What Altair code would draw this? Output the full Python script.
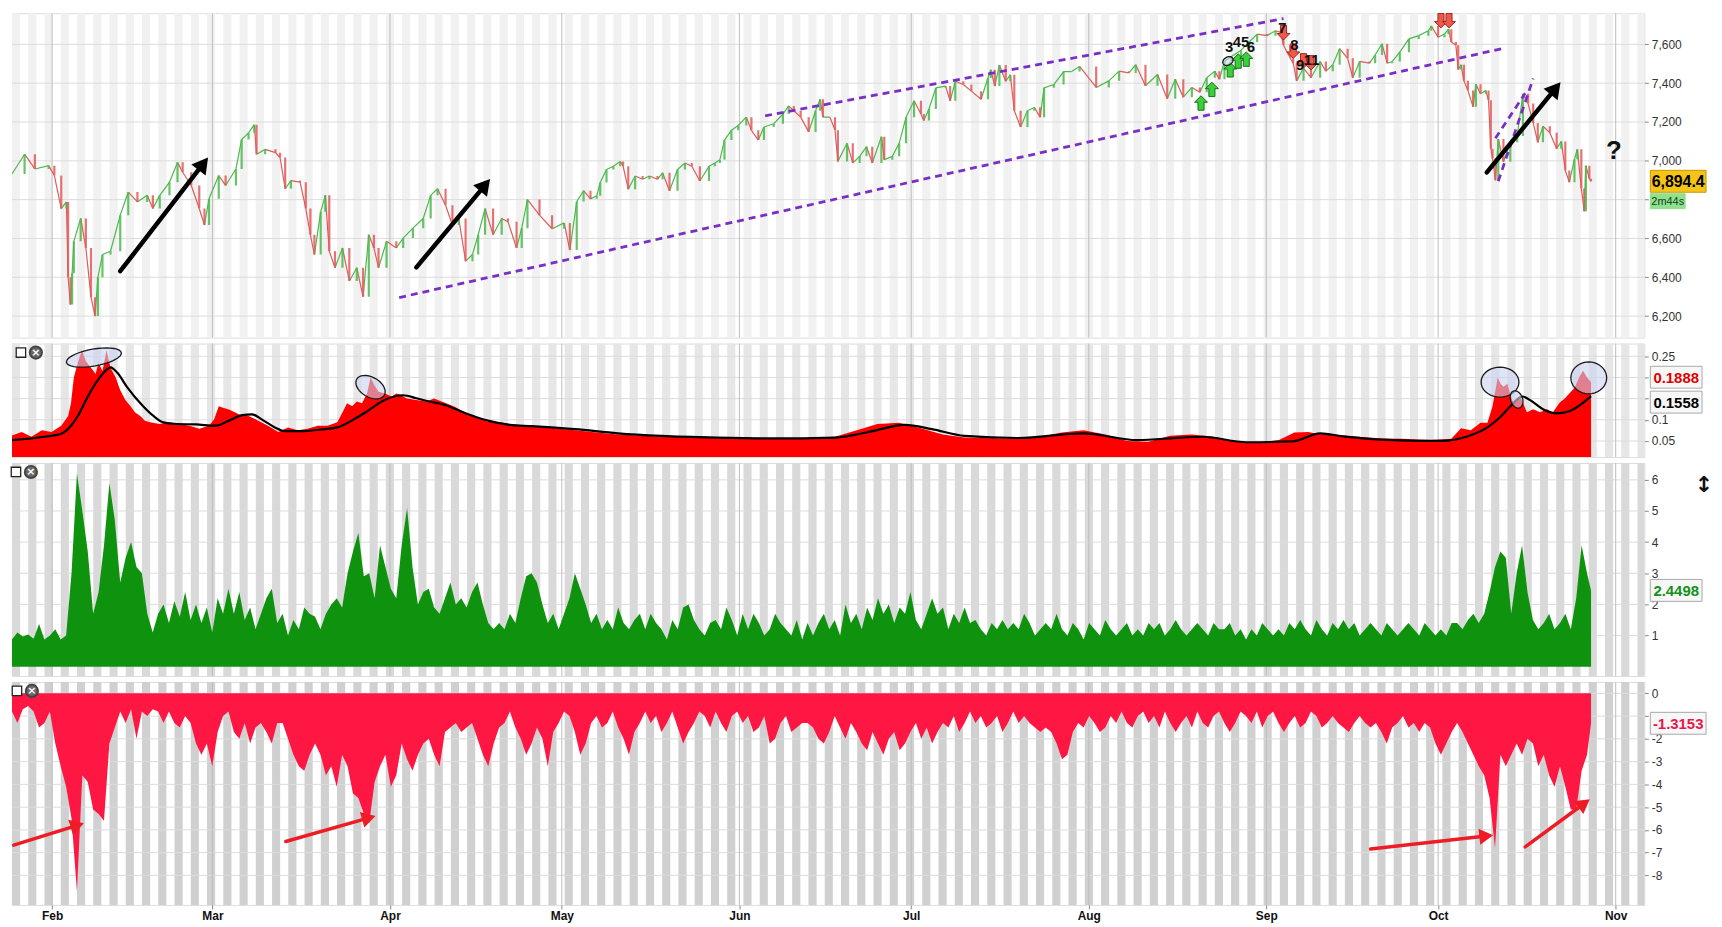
import math
import altair as alt
import numpy as np
import pandas as pd

# ------------------------------------------------------------------ data
MONTHS = ["Feb", "Mar", "Apr", "May", "Jun", "Jul", "Aug", "Sep", "Oct", "Nov"]
PRICE_TICKS = [6200, 6400, 6600, 6800, 7000, 7200, 7400, 7600]
VOL_TICKS = [0.05, 0.1, 0.15, 0.2, 0.25]
POS_TICKS = [1, 2, 3, 4, 5, 6]
NEG_TICKS = [0, -1, -2, -3, -4, -5, -6, -7, -8]
# tick labels covered by the last-value boxes in the reference
VOL_HIDDEN = [0.15, 0.2]
NEG_HIDDEN = [-1]

# (day since 25 Jan, price)
PRICE = [(0.0, 6932), (2.2, 7034), (4.0, 6958), (6.4, 6975), (7.4, 6924), (8.6, 6754), (9.5, 6788),
         (9.8, 6400), (10.2, 6260), (10.5, 6420), (10.8, 6585), (12.0, 6703), (12.9, 6551), (13.8, 6297),
         (14.5, 6200), (15.0, 6400), (15.8, 6517), (17.2, 6534), (18.9, 6720), (20.3, 6839), (21.9, 6788),
         (23.6, 6822), (24.6, 6754), (25.8, 6822), (27.5, 6890), (28.9, 6992), (29.8, 6941), (31.3, 6873),
         (32.7, 6754), (33.6, 6669), (34.4, 6805), (36.1, 6924), (37.3, 6873), (39.1, 6958), (40.1, 7110),
         (41.3, 7144), (42.3, 7186), (42.7, 7034), (44.2, 7059), (46.0, 7042), (46.8, 7017), (47.7, 6856),
         (48.7, 6898), (50.3, 6890), (51.3, 6754), (52.1, 6619), (52.8, 6517), (53.9, 6737), (54.7, 6822),
         (55.4, 6534), (56.4, 6449), (57.7, 6551), (58.9, 6381), (60.2, 6449), (61.3, 6300), (62.3, 6619),
         (63.2, 6551), (64.0, 6449), (65.4, 6585), (67.1, 6551), (68.3, 6602), (70.0, 6653), (71.8, 6703),
         (73.1, 6822), (74.3, 6856), (75.7, 6771), (76.9, 6669), (78.0, 6703), (79.2, 6483), (80.4, 6517),
         (81.4, 6619), (82.6, 6754), (84.0, 6619), (85.5, 6703), (86.6, 6686), (88.1, 6551), (89.0, 6653),
         (90.0, 6800), (92.1, 6720), (94.3, 6650), (96.4, 6680), (97.4, 6540), (98.6, 6790), (99.8, 6846),
         (101.0, 6804), (102.1, 6820), (102.7, 6888), (103.8, 6955), (105.0, 6972), (106.2, 6997),
         (106.7, 6972), (107.6, 6854), (108.8, 6922), (110.1, 6905), (111.3, 6922), (112.7, 6905),
         (113.6, 6938), (114.8, 6846), (116.2, 6955), (117.5, 6989), (118.7, 6972), (120.1, 6896),
         (121.7, 6972), (122.7, 6989), (123.6, 7006), (124.4, 7107), (125.6, 7157), (126.8, 7182),
         (128.2, 7225), (129.1, 7157), (130.3, 7107), (131.3, 7174), (133.0, 7191), (134.6, 7241),
         (135.6, 7283), (136.5, 7258), (137.7, 7225), (139.1, 7149), (140.3, 7258), (141.1, 7317),
         (141.6, 7225), (142.8, 7225), (143.7, 7157), (144.2, 6997), (145.8, 7090), (146.8, 6989),
         (148.0, 7023), (149.2, 7073), (150.2, 6989), (151.8, 7124), (152.3, 7006), (153.7, 7023),
         (154.9, 7090), (156.1, 7225), (157.5, 7309), (158.7, 7241), (159.2, 7208), (160.1, 7267),
         (161.3, 7376), (163.0, 7385), (163.8, 7309), (164.7, 7410), (166.1, 7393), (167.5, 7359),
         (169.2, 7317), (170.4, 7427), (170.9, 7469), (171.6, 7385), (172.4, 7494), (173.5, 7410),
         (174.3, 7443), (175.0, 7258), (176.1, 7174), (177.3, 7258), (178.5, 7275), (179.5, 7225),
         (180.2, 7376), (181.9, 7393), (183.6, 7460), (185.0, 7460), (186.4, 7486), (189.3, 7378),
         (191.5, 7412), (193.3, 7462), (195.0, 7453), (196.2, 7495), (197.9, 7387), (200.0, 7445),
         (201.7, 7320), (203.1, 7420), (204.5, 7328), (206.0, 7378), (207.4, 7353), (208.6, 7428),
         (210.0, 7462), (210.8, 7420), (211.7, 7512), (212.9, 7537), (214.6, 7570), (216.0, 7612),
         (217.4, 7653), (219.1, 7645), (220.6, 7670), (221.5, 7662), (222.0, 7595), (223.2, 7528),
         (223.7, 7503), (224.3, 7412), (225.5, 7478), (226.8, 7428), (228.4, 7512), (229.4, 7462),
         (230.6, 7495), (231.8, 7578), (233.2, 7528), (234.1, 7428), (235.3, 7512), (237.0, 7503),
         (238.0, 7545), (239.2, 7603), (240.1, 7503), (241.0, 7512), (242.3, 7560), (243.9, 7628),
         (245.6, 7645), (247.3, 7670), (247.8, 7695), (249.0, 7637), (250.1, 7653), (250.8, 7678),
         (251.3, 7612), (252.1, 7595), (252.5, 7470), (253.0, 7495), (253.5, 7412), (254.2, 7362),
         (255.1, 7278), (255.6, 7395), (256.4, 7345), (257.3, 7362), (257.8, 7312), (258.2, 7062),
         (258.5, 7012), (259.0, 6900), (259.5, 7112), (260.4, 6995), (261.6, 7095), (262.8, 7128),
         (263.8, 7345), (264.7, 7295), (265.6, 7195), (266.4, 7095), (267.3, 7178), (268.5, 7145),
         (269.7, 7062), (270.5, 7100), (271.2, 6950), (271.9, 6890), (272.8, 7008), (273.3, 7059),
         (274.0, 6857), (274.5, 6740), (274.8, 6975), (275.4, 6908), (275.7, 6894.4)]

VOL_RED = [(0.0, 0.063), (1.7, 0.071), (3.4, 0.060), (5.2, 0.075), (6.9, 0.071), (8.6, 0.086), (9.8, 0.109),
           (10.3, 0.139), (10.8, 0.200), (11.4, 0.230), (12.2, 0.264), (12.9, 0.238), (13.8, 0.223),
           (14.6, 0.208), (15.1, 0.234), (15.8, 0.215), (16.5, 0.264), (17.2, 0.223), (18.1, 0.200),
           (18.9, 0.170), (19.8, 0.147), (20.7, 0.132), (21.5, 0.117), (22.4, 0.109), (23.2, 0.098),
           (24.1, 0.094), (25.8, 0.090), (27.5, 0.094), (29.3, 0.090), (31.0, 0.086), (32.7, 0.079),
           (34.4, 0.086), (35.3, 0.101), (36.1, 0.132), (37.0, 0.128), (37.9, 0.124), (39.6, 0.113),
           (41.3, 0.109), (43.0, 0.098), (44.7, 0.086), (46.5, 0.071), (48.2, 0.082), (49.9, 0.075),
           (51.6, 0.079), (53.4, 0.086), (55.1, 0.086), (56.8, 0.094), (57.7, 0.117), (58.5, 0.139),
           (59.4, 0.132), (60.2, 0.143), (61.1, 0.139), (62.0, 0.162), (62.6, 0.200), (63.3, 0.181),
           (64.0, 0.166), (65.1, 0.162), (66.3, 0.155), (67.1, 0.162), (68.0, 0.158), (68.8, 0.151),
           (70.6, 0.147), (72.3, 0.143), (73.7, 0.150), (75.6, 0.140), (77.4, 0.130), (79.3, 0.115),
           (81.2, 0.105), (83.1, 0.095), (85.0, 0.095), (86.9, 0.090), (90.7, 0.085), (94.5, 0.080),
           (98.3, 0.075), (102.1, 0.070), (105.8, 0.065), (113.4, 0.060), (121.0, 0.060), (128.6, 0.058),
           (136.1, 0.055), (143.7, 0.060), (147.5, 0.075), (151.1, 0.090), (154.9, 0.093), (158.7, 0.080),
           (162.5, 0.065), (166.3, 0.058), (173.8, 0.055), (179.5, 0.060), (183.3, 0.070), (187.1, 0.075),
           (190.9, 0.065), (194.7, 0.050), (198.4, 0.048), (202.2, 0.062), (206.0, 0.065), (209.8, 0.060),
           (213.6, 0.048), (217.4, 0.045), (221.2, 0.052), (223.9, 0.070), (226.3, 0.071), (228.4, 0.066),
           (231.5, 0.064), (235.3, 0.060), (239.2, 0.056), (242.7, 0.055), (247.8, 0.052), (251.3, 0.055),
           (253.0, 0.080), (254.7, 0.075), (256.4, 0.093), (257.6, 0.093), (258.5, 0.132), (259.4, 0.200),
           (259.9, 0.185), (260.4, 0.178), (261.1, 0.185), (261.6, 0.160), (262.1, 0.141), (263.3, 0.155),
           (263.8, 0.140), (264.5, 0.118), (265.6, 0.125), (266.8, 0.118), (268.0, 0.125), (269.0, 0.117),
           (270.2, 0.140), (271.1, 0.150), (271.9, 0.162), (272.8, 0.175), (273.6, 0.200), (274.3, 0.216),
           (275.0, 0.200), (275.7, 0.1888)]

VOL_MA = [(0.0, 0.052), (5.7, 0.060), (8.6, 0.067), (10.3, 0.086), (11.5, 0.109), (13.2, 0.154),
          (14.9, 0.192), (16.6, 0.219), (17.2, 0.224), (18.4, 0.211), (20.1, 0.177), (22.9, 0.132),
          (24.7, 0.109), (26.4, 0.094), (28.7, 0.090), (32.1, 0.089), (35.6, 0.086), (37.9, 0.098),
          (40.2, 0.111), (41.9, 0.113), (43.6, 0.101), (45.9, 0.082), (47.6, 0.073), (50.5, 0.073),
          (53.9, 0.077), (56.8, 0.082), (59.7, 0.101), (62.0, 0.120), (64.8, 0.145), (68.3, 0.158),
          (70.6, 0.151), (72.3, 0.145), (75.6, 0.135), (79.3, 0.115), (83.1, 0.098), (86.9, 0.088),
          (90.7, 0.085), (98.3, 0.078), (105.8, 0.068), (113.4, 0.062), (122.9, 0.058), (132.3, 0.056),
          (143.7, 0.058), (149.2, 0.070), (155.9, 0.088), (160.6, 0.078), (166.3, 0.062), (175.7, 0.057),
          (187.1, 0.068), (196.5, 0.052), (204.1, 0.058), (207.9, 0.060), (215.5, 0.047), (223.7, 0.049),
          (228.4, 0.068), (232.3, 0.061), (241.0, 0.052), (249.5, 0.050), (254.2, 0.061), (257.6, 0.082),
          (259.9, 0.107), (261.6, 0.132), (263.7, 0.155), (265.0, 0.147), (267.3, 0.125), (269.7, 0.115),
          (271.9, 0.120), (275.7, 0.1558)]

SERIES_STEP_DAYS = 0.945
GREEN = [0.87, 1.1, 0.97, 1.03, 0.9, 1.37, 0.87, 1.0, 1.2, 0.87,
         1.0, 3.0, 6.2, 5.0, 3.7, 1.7, 2.4, 3.9, 5.9, 4.7,
         2.7, 3.5, 4.0, 3.2, 3.0, 1.7, 1.1, 1.7, 2.0, 1.4,
         2.1, 1.6, 2.4, 1.5, 2.0, 1.4, 1.9, 1.1, 2.2, 1.7,
         2.5, 1.7, 2.4, 1.5, 1.9, 1.2, 1.7, 2.2, 2.5, 1.4,
         1.7, 1.0, 1.5, 1.2, 1.9, 1.7, 1.6, 1.2, 1.7, 2.0,
         2.2, 1.9, 3.0, 3.7, 4.3, 2.9, 3.0, 2.2, 3.9, 3.2,
         2.5, 2.2, 3.9, 5.1, 3.2, 2.0, 2.4, 2.5, 1.9, 1.7,
         2.2, 2.7, 2.0, 2.2, 1.9, 2.4, 2.7, 2.0, 1.4, 1.2,
         1.4, 1.2, 1.7, 1.4, 2.2, 2.9, 3.0, 2.7, 2.0, 1.4,
         1.7, 1.2, 1.7, 2.2, 3.0, 2.5, 2.0, 1.4, 1.7, 1.2,
         1.5, 1.2, 1.9, 1.4, 1.2, 1.5, 1.7, 1.2, 1.7, 1.4,
         1.2, 0.87, 1.5, 1.2, 1.9, 2.0, 1.5, 1.2, 1.0, 1.4,
         1.5, 1.2, 1.9, 1.5, 1.0, 1.7, 1.2, 1.7, 1.4, 1.0,
         1.2, 1.7, 1.4, 1.2, 1.0, 1.5, 0.87, 1.4, 1.0, 1.4,
         1.7, 1.2, 1.5, 1.0, 2.0, 1.4, 1.7, 1.2, 1.9, 1.5,
         2.2, 1.7, 2.0, 1.4, 1.9, 1.7, 2.4, 1.5, 1.2, 1.7,
         2.2, 1.7, 1.9, 1.2, 1.7, 1.4, 1.9, 1.4, 1.5, 1.2,
         1.0, 1.4, 1.2, 1.5, 1.2, 1.4, 1.2, 1.7, 1.4, 1.0,
         1.2, 1.4, 1.2, 1.7, 1.2, 1.0, 1.4, 1.2, 0.87, 1.4,
         1.2, 1.0, 1.5, 1.2, 1.0, 1.2, 1.4, 1.0, 1.2, 1.0,
         1.4, 1.2, 1.4, 1.0, 1.2, 1.5, 1.2, 1.0, 1.2, 1.4,
         1.2, 1.0, 1.4, 1.2, 1.2, 1.4, 1.0, 1.2, 0.87, 1.2,
         1.0, 1.4, 1.2, 1.0, 1.2, 1.0, 1.4, 1.2, 1.5, 1.2,
         1.0, 1.5, 1.2, 1.0, 1.4, 1.2, 1.5, 1.2, 1.4, 1.0,
         1.2, 1.4, 1.2, 1.0, 1.4, 1.2, 1.0, 1.2, 1.4, 1.2,
         1.0, 1.4, 1.2, 1.0, 1.2, 1.0, 1.4, 1.4, 1.2, 1.5,
         1.7, 1.4, 1.7, 2.4, 3.2, 3.7, 3.5, 1.7, 3.0, 3.9,
         2.4, 1.5, 1.2, 1.4, 1.7, 1.2, 1.4, 1.7, 1.2, 2.2,
         3.9, 3.0]

RED = [-0.8, -1.3, -0.7, -0.55, -0.8, -1.5, -1.3, -0.8, -2.2, -3.2,
       -4.1, -5.5, -8.7, -3.6, -3.9, -5.1, -5.3, -5.6, -2.2, -1.5,
       -0.8, -1.3, -0.7, -2.0, -0.8, -1.0, -0.7, -0.8, -1.3, -0.8,
       -1.3, -1.5, -1.0, -1.3, -2.2, -2.7, -2.2, -3.2, -1.7, -1.0,
       -0.8, -1.7, -2.0, -1.3, -2.2, -1.5, -1.3, -1.7, -2.2, -1.3,
       -1.3, -2.0, -2.7, -3.2, -3.4, -2.7, -2.2, -2.7, -3.6, -3.2,
       -4.1, -2.7, -3.2, -4.4, -4.6, -5.3, -5.7, -3.9, -3.2, -2.7,
       -4.1, -3.6, -2.2, -2.9, -3.4, -2.7, -2.2, -2.0, -2.7, -3.2,
       -1.7, -1.5, -1.3, -1.7, -1.5, -1.3, -2.0, -2.7, -3.2, -2.2,
       -1.5, -1.3, -0.8, -1.5, -2.0, -2.7, -2.2, -1.5, -2.0, -3.2,
       -1.7, -1.3, -0.8, -1.0, -1.7, -2.7, -2.2, -1.3, -1.0, -1.5,
       -1.3, -0.8, -1.5, -2.0, -2.7, -1.7, -1.3, -0.8, -1.3, -1.0,
       -1.7, -1.3, -0.8, -1.5, -2.2, -1.7, -1.3, -0.8, -1.0, -1.5,
       -0.8, -1.3, -1.7, -1.0, -0.8, -1.3, -1.0, -1.7, -1.5, -1.0,
       -2.2, -2.0, -1.3, -1.0, -1.7, -1.5, -1.3, -1.3, -1.5, -2.0,
       -2.2, -1.7, -1.0, -1.5, -2.0, -1.3, -1.7, -2.2, -2.5, -1.7,
       -2.2, -2.7, -2.0, -1.7, -2.5, -2.2, -1.7, -1.3, -2.0, -1.5,
       -2.2, -1.7, -1.3, -1.5, -1.0, -1.7, -1.3, -0.8, -1.3, -1.0,
       -1.5, -1.3, -1.0, -1.7, -1.3, -0.8, -1.3, -1.0, -1.3, -1.5,
       -1.7, -1.5, -1.7, -2.2, -2.9, -2.7, -1.7, -1.3, -1.5, -1.0,
       -1.3, -1.7, -1.5, -1.0, -1.3, -0.8, -1.3, -1.5, -1.0, -0.8,
       -1.3, -1.0, -1.5, -0.8, -1.3, -1.7, -1.3, -1.0, -1.5, -0.8,
       -1.3, -1.5, -1.0, -0.8, -1.3, -1.7, -1.3, -0.8, -1.0, -1.3,
       -0.8, -1.5, -1.0, -0.8, -1.3, -1.7, -1.3, -1.0, -1.5, -1.3,
       -0.8, -1.0, -1.5, -1.3, -1.0, -1.3, -1.5, -1.7, -1.3, -1.0,
       -1.3, -1.5, -1.3, -1.7, -2.2, -1.5, -1.3, -1.0, -1.5, -1.3,
       -1.7, -1.3, -1.5, -2.2, -2.7, -2.2, -1.7, -1.3, -1.7, -2.2,
       -2.7, -3.2, -3.6, -4.6, -6.8, -2.7, -3.2, -2.7, -2.2, -2.7,
       -2.0, -2.2, -3.2, -2.7, -3.6, -4.1, -3.2, -4.1, -5.1, -5.1,
       -3.4, -2.7]

LAST_DAY = 275.7
LAST_PRICE, LAST_TIMER = 6894.4, "2m44s"
LAST_VOL, LAST_VOL_MA = 0.1888, 0.1558
LAST_GREEN, LAST_RED = 2.4498, -1.3153

# annotations (day, value, day2, value2)
TREND_LINES = [(67.6, 6295, 260.4, 7580), (131.5, 7232, 222.0, 7733),
               (259.5, 6895, 265.6, 7424), (259.0, 7116, 264.2, 7348)]
BLACK_ARROWS = [(18.9, 6431, 33.4, 6985), (70.6, 6451, 82.6, 6875), (257.5, 6940, 269.5, 7373)]
RED_ARROWS = [(0.3, -6.67, 11.4, -5.8), (47.8, -6.51, 62.3, -5.47),
              (237.2, -6.84, 257.4, -6.27), (264.2, -6.75, 274.5, -4.84)]
NUM_LABELS = [("3", 212.5, 7585), ("45", 214.6, 7612), ("6", 216.3, 7585), ("7", 221.8, 7686),
              ("8", 223.9, 7598), ("9", 224.9, 7496), ("11", 226.9, 7518)]
UP_SIGNALS = [(207.6, 7298), (209.5, 7368), (212.7, 7469), (214.1, 7514), (215.5, 7524)]
DOWN_SIGNALS = [(222.0, 7660), (223.7, 7565), (225.5, 7515), (226.8, 7505), (249.5, 7722), (250.9, 7722)]
# (day, value, width px, height px, tilt)
ELLIPSES_VOL = [(14.3, 0.247, 56, 17, 350), (62.6, 0.177, 32, 20, 30), (259.8, 0.189, 38, 30, 0),
                (262.7, 0.148, 18, 12, 70), (275.3, 0.199, 36, 32, 0)]
ELLIPSES_PRICE = [(212.3, 7514, 11, 8, 330)]
QUESTION = (279.7, 7051)

# ------------------------------------------------------------------ layout
W = 1640
H1, H2, H3, H4 = 326, 114, 214, 224
D1, D2, D3, D4 = [6089, 7761], [0.012, 0.28], [-0.3, 6.54], [-9.3, 0.5]
T0 = pd.Timestamp("2025-01-25")
SPAN = 285.0
FONT = "Liberation Sans"
UP_C, DOWN_C = "#4cb84c", "#e05a5a"


def dt(days):
    return T0 + pd.to_timedelta(np.asarray(days, dtype=float), unit="D")


XS = alt.Scale(domain=[alt.DateTime(year=2025, month=1, date=25),
                       alt.DateTime(year=2025, month=11, date=6)])


def yaxis(ticks, fmt=None, hidden=()):
    kw = dict(orient="right", values=ticks, grid=False, domain=False, tickSize=4, tickColor="#888",
              labelFont=FONT, labelFontSize=12, labelColor="#333", title=None, labelPadding=3)
    if fmt:
        kw["format"] = fmt
    else:
        cond = " || ".join(f"datum.value == {h}" for h in hidden)
        kw["labelExpr"] = f"({cond}) ? '' : '' + datum.value" if hidden else "'' + datum.value"
    return alt.Axis(**kw)


YAX = {tuple(D1): yaxis(PRICE_TICKS, ",d"), tuple(D2): yaxis(VOL_TICKS, hidden=VOL_HIDDEN),
       tuple(D3): yaxis(POS_TICKS), tuple(D4): yaxis(NEG_TICKS, hidden=NEG_HIDDEN)}
XAXIS_BOTTOM = alt.Axis(values=[alt.DateTime(year=2025, month=i + 2, date=1) for i in range(len(MONTHS))],
                        format="%b", labelFont=FONT, labelFontSize=12, labelFontWeight="bold",
                        labelColor="#111", tickSize=4, tickColor="#888", domain=False, grid=False,
                        title=None, labelPadding=2)
CUR_XAXIS = [None]


def X(f):
    return alt.X(f"{f}:T", scale=XS, axis=CUR_XAXIS[0], title=None)


def Y(f, dom):
    return alt.Y(f"{f}:Q", scale=alt.Scale(domain=dom, nice=False, zero=False),
                 axis=YAX[tuple(dom)], title=None)


ONE = pd.DataFrame({"a": [0]})

P = 2.838
k = np.arange(0, int(SPAN / P) + 1)
bands = pd.DataFrame({"t0": dt(k * P), "t1": dt(np.minimum(k * P + P / 2, SPAN))})
months_df = pd.DataFrame({"t": [pd.Timestamp(f"2025-{i + 2:02d}-01") for i in range(len(MONTHS))],
                          "m": MONTHS})


def background(dom, ticks, band_color):
    b = alt.Chart(bands).mark_rect(color=band_color).encode(x=X("t0"), x2="t1:T")
    g = alt.Chart(pd.DataFrame({"v": ticks})).mark_rule(color="#dcdcdc", strokeWidth=1).encode(
        y=Y("v", dom))
    m = alt.Chart(months_df).mark_rule(color="#bdbdbd", strokeWidth=1).encode(x=X("t"))
    return [b, g, m]


def angle_of(d1, v1, d2, v2, dom, h):
    dx = (d2 - d1) / SPAN * W
    dy = (v2 - v1) / (dom[1] - dom[0]) * h
    return math.degrees(math.atan2(dx, dy)) % 360


def arrows(lst, dom, h, color, width, head):
    rows = []
    for d1, v1, d2, v2 in lst:
        rows.append({"t": dt(d1), "v": v1, "t2": dt(d2), "v2": v2,
                     "ang": angle_of(d1, v1, d2, v2, dom, h)})
    df = pd.DataFrame(rows)
    r = alt.Chart(df).mark_rule(color=color, strokeWidth=width, strokeCap="round").encode(
        x=X("t"), x2="t2:T", y=Y("v", dom), y2="v2:Q")
    hd = alt.Chart(df).mark_point(shape="triangle-up", filled=True, color=color, opacity=1,
                                  size=head).encode(
        x=X("t2"), y=Y("v2", dom), angle=alt.Angle("ang:Q", scale=None))
    return [r, hd]


def ellipse_layers(lst, dom):
    out = []
    for d, v, w, h, tilt in lst:
        ratio = h / w
        pts = [(math.cos(2 * math.pi * i / 36), ratio * math.sin(2 * math.pi * i / 36)) for i in range(36)]
        path = "M" + "L".join(f"{x:.3f},{y:.3f}" for x, y in pts) + "Z"
        df = pd.DataFrame({"t": dt([d]), "v": [v]})
        out.append(alt.Chart(df).mark_point(shape=path, size=w * w, filled=True, fill="#c9d3f0",
                                            fillOpacity=0.6, stroke="#1a1a1a", strokeWidth=1.3,
                                            strokeOpacity=1, angle=tilt).encode(x=X("t"), y=Y("v", dom)))
    return out


def box_path(w, h, dy):
    s = 30.0
    x0, x1, y0, y1 = 0, w / s, (dy - h / 2) / s, (dy + h / 2) / s
    return f"M{x0},{y0:.3f}L{x1:.3f},{y0:.3f}L{x1:.3f},{y1:.3f}L{x0},{y1:.3f}Z"


def value_box(value, text, dom, w, h, dy, fill, stroke, color, size=15, weight="bold"):
    df = pd.DataFrame({"v": [value]})
    bx = alt.Chart(df).mark_point(shape=box_path(w, h, dy), size=3600, filled=True, fill=fill,
                                  stroke=stroke, strokeWidth=1, opacity=1).encode(
        x=alt.value(W + 6), y=Y("v", dom))
    tx = alt.Chart(df).mark_text(text=text, font=FONT, fontSize=size, fontWeight=weight, color=color,
                                 align="center", baseline="middle", dy=dy + 1).encode(
        x=alt.value(W + 6 + w / 2), y=Y("v", dom))
    return [bx, tx]


def icons(xs):
    sq = alt.Chart(ONE).mark_point(shape="square", size=90, filled=True, fill="white", stroke="#222",
                                   strokeWidth=1.3, opacity=1).encode(x=alt.value(xs), y=alt.value(9))
    ci = alt.Chart(ONE).mark_point(shape="circle", size=150, filled=True, fill="#6a6a6a", stroke="#444",
                                   opacity=1).encode(x=alt.value(xs + 15), y=alt.value(9))
    xx = alt.Chart(ONE).mark_text(text="×", font="DejaVu Sans", fontSize=11, fontWeight="bold",
                                  color="white", align="center", baseline="middle").encode(
        x=alt.value(xs + 15), y=alt.value(9))
    return [sq, ci, xx]


def signals(lst, up):
    if up:
        path = "M0,-1L0.9,-0.1L0.42,-0.1L0.42,1L-0.42,1L-0.42,-0.1L-0.9,-0.1Z"
        fill, stroke = "#3ccf3c", "#1d6b1d"
    else:
        path = "M0,1L0.9,0.1L0.42,0.1L0.42,-1L-0.42,-1L-0.42,0.1L-0.9,0.1Z"
        fill, stroke = "#f0584a", "#9b2a20"
    df = pd.DataFrame({"t": dt([a for a, _ in lst]), "v": [b for _, b in lst]})
    return alt.Chart(df).mark_point(shape=path, size=210, filled=True, fill=fill, stroke=stroke,
                                    strokeWidth=1, opacity=1).encode(x=X("t"), y=Y("v", D1))


# ------------------------------------------------------------------ panel 1: price
CUR_XAXIS[0] = None
pdays = [p[0] for p in PRICE]
pvals = [p[1] for p in PRICE]
seg = pd.DataFrame({"t": dt(pdays[:-1]), "t2": dt(pdays[1:]), "p": pvals[:-1], "p2": pvals[1:]})
seg["dir"] = np.where(seg["p2"] >= seg["p"], "up", "down")
dir_color = alt.Color("dir:N", scale=alt.Scale(domain=["up", "down"], range=[UP_C, DOWN_C]), legend=None)
price = alt.Chart(seg).mark_rule(strokeWidth=1.2, clip=True).encode(
    x=X("t"), x2="t2:T", y=Y("p", D1), y2="p2:Q", color=dir_color)
bodies = alt.Chart(seg).mark_rule(strokeWidth=2.2, clip=True, opacity=0.85).encode(
    x=X("t2"), y=Y("p", D1), y2="p2:Q", color=dir_color)

tl = pd.DataFrame([{"t": dt(a), "v": b, "t2": dt(c), "v2": d} for a, b, c, d in TREND_LINES])
trend = alt.Chart(tl).mark_rule(color="#7a2fc4", strokeWidth=2.8, strokeDash=[7, 5], clip=True).encode(
    x=X("t"), x2="t2:T", y=Y("v", D1), y2="v2:Q")

nums = pd.DataFrame({"s": [a for a, _, _ in NUM_LABELS], "t": dt([b for _, b, _ in NUM_LABELS]),
                     "v": [c for _, _, c in NUM_LABELS]})
num_layer = alt.Chart(nums).mark_text(font=FONT, fontSize=15, fontWeight="bold", color="#111",
                                      align="center", baseline="middle").encode(
    x=X("t"), y=Y("v", D1), text="s:N")

q = alt.Chart(pd.DataFrame({"t": dt([QUESTION[0]]), "v": [QUESTION[1]]})).mark_text(
    text="?", font=FONT, fontSize=26, fontWeight="bold", color="#111").encode(x=X("t"), y=Y("v", D1))

p1_layers = (background(D1, PRICE_TICKS, "#f1f1f1")
             + [price, bodies, trend]
             + arrows(BLACK_ARROWS, D1, H1, "#000000", 4.5, 330)
             + [signals(UP_SIGNALS, True), signals(DOWN_SIGNALS, False), num_layer]
             + ellipse_layers(ELLIPSES_PRICE, D1)
             + [q]
             + value_box(LAST_PRICE, "6,894.4", D1, 56, 22, 0, "#f6c417", "#c49a00", "#000000", 16)
             + value_box(LAST_PRICE, LAST_TIMER, D1, 35, 15, 20, "#8fe08f", "#8fe08f", "#12401a", 11,
                         "normal"))
p1 = alt.layer(*p1_layers).properties(width=W, height=H1)

# ------------------------------------------------------------------ panel 2: volatility
vr = pd.DataFrame({"t": dt([a for a, _ in VOL_RED]), "v": [b for _, b in VOL_RED]})
vm = pd.DataFrame({"t": dt([a for a, _ in VOL_MA]), "v": [b for _, b in VOL_MA]})
vol_area = alt.Chart(vr).mark_area(color="#ff0000", clip=True, opacity=1).encode(
    x=X("t"), y=Y("v", D2), y2=alt.datum(0))
vol_ma = alt.Chart(vm).mark_line(color="#000000", strokeWidth=2.2, interpolate="monotone", clip=True).encode(
    x=X("t"), y=Y("v", D2))
p2_layers = (background(D2, VOL_TICKS, "#e6e6e6")
             + [vol_area, vol_ma]
             + ellipse_layers(ELLIPSES_VOL, D2)
             + icons(9)
             + value_box(LAST_VOL, "0.1888", D2, 52, 22, -5, "#f7f7f7", "#a8a8a8", "#e00000")
             + value_box(LAST_VOL_MA, "0.1558", D2, 52, 22, 6, "#f7f7f7", "#a8a8a8", "#000000"))
p2 = alt.layer(*p2_layers).properties(width=W, height=H2)

# ------------------------------------------------------------------ panel 3: green
gd = list(np.arange(len(GREEN)) * SERIES_STEP_DAYS) + [LAST_DAY]
gdf = pd.DataFrame({"t": dt(gd), "v": GREEN + [LAST_GREEN]})
green = alt.Chart(gdf).mark_area(color="#0f930f", clip=True, opacity=1).encode(
    x=X("t"), y=Y("v", D3), y2=alt.datum(0))
updown = alt.Chart(pd.DataFrame({"v": [5.84]})).mark_text(
    text="↕", font="DejaVu Sans", fontSize=22, fontWeight="bold", color="#111", align="center").encode(
    x=alt.value(W + 60), y=Y("v", D3))
p3_layers = (background(D3, POS_TICKS, "#d9d9d9")
             + [green]
             + icons(4)
             + value_box(LAST_GREEN, "2.4498", D3, 52, 22, 0, "#f7f7f7", "#a8a8a8", "#13901b")
             + [updown])
p3 = alt.layer(*p3_layers).properties(width=W, height=H3)

# ------------------------------------------------------------------ panel 4: red
CUR_XAXIS[0] = XAXIS_BOTTOM
rd = list(np.arange(len(RED)) * SERIES_STEP_DAYS) + [LAST_DAY]
rdf = pd.DataFrame({"t": dt(rd), "v": RED + [LAST_RED]})
red = alt.Chart(rdf).mark_area(color="#ff1744", clip=True, opacity=1).encode(
    x=X("t"), y=Y("v", D4), y2=alt.datum(0))
p4_layers = (background(D4, NEG_TICKS, "#d0d0d0")
             + [red]
             + arrows(RED_ARROWS, D4, H4, "#ee1c25", 3.5, 260)
             + icons(5)
             + value_box(LAST_RED, "-1.3153", D4, 56, 22, 0, "#f7f7f7", "#a8a8a8", "#e8174a"))
p4 = alt.layer(*p4_layers).properties(width=W, height=H4)

chart = alt.vconcat(p1, p2, p3, p4, spacing=3).properties(
    padding={"left": 0, "top": 0, "right": 0, "bottom": 0}
).configure_view(stroke="#9a9a9a", strokeWidth=1).configure(background="white")

chart.save("out.html", embed_options={"renderer": "svg", "actions": False})
